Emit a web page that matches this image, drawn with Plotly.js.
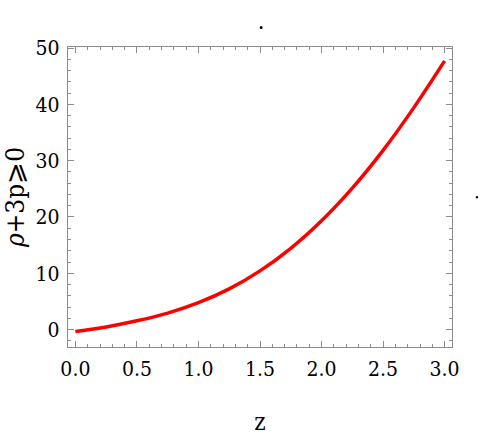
<!DOCTYPE html>
<html>
<head>
<meta charset="utf-8">
<script src="https://cdn.plot.ly/plotly-3.0.1.min.js"></script>
<style>html,body{margin:0;padding:0;background:#fff}#chart{width:491px;height:436px}</style>
</head>
<body>
<div id="chart"></div>
<script>
const zValues = [0, 0.25, 0.5, 0.75, 1.0, 1.25, 1.5, 1.75, 2.0, 2.25, 2.5, 2.75, 3.0];
const rhoPlus3p = [-0.35, 0.47, 1.55, 2.93, 4.78, 7.23, 10.43, 14.43, 19.33, 25.13, 31.83, 39.43, 47.73];
const xTickVals = [0, 0.5, 1, 1.5, 2, 2.5, 3];
const xTickText = ["0.0", "0.5", "1.0", "1.5", "2.0", "2.5", "3.0"];
const yTickVals = [0, 10, 20, 30, 40, 50];
const yTickText = ["0", "10", "20", "30", "40", "50"];

const serif = "DejaVu Serif Condensed, DejaVu Serif, serif";
const tickFont = {family: serif, size: 21, color: "#000"};
const frameColor = "#8c8c8c";

const trace = {
  x: zValues, y: rhoPlus3p, type: "scatter", mode: "lines",
  line: {color: "#ff0000", width: 3.5, shape: "spline", smoothing: 1},
  hoverinfo: "none"
};

const layout = {
  width: 491, height: 436,
  font: {family: serif, color: "#000"},
  margin: {l: 68, r: 39, t: 46.5, b: 89},
  paper_bgcolor: "#fff", plot_bgcolor: "#fff",
  showlegend: false,
  xaxis: {
    range: [-0.06, 3.06], tickvals: xTickVals, ticktext: xTickText,
    ticks: "inside", ticklen: 6, tickwidth: 1, tickcolor: frameColor,
    minor: {dtick: 0.1, tick0: 0, ticks: "inside", ticklen: 3, tickcolor: frameColor, showgrid: false},
    showline: true, linecolor: frameColor, linewidth: 1.3, mirror: "allticks",
    showgrid: false, zeroline: false, tickfont: tickFont, ticklabelstandoff: 2,
    title: {text: "z", font: {family: serif, size: 24, color: "#000"}, standoff: 33}
  },
  yaxis: {
    range: [-3.1, 50.2], tickvals: yTickVals, ticktext: yTickText,
    ticks: "inside", ticklen: 6, tickwidth: 1, tickcolor: frameColor,
    minor: {dtick: 2, tick0: 0, ticks: "inside", ticklen: 3, tickcolor: frameColor, showgrid: false},
    showline: true, linecolor: frameColor, linewidth: 1.3, mirror: "allticks",
    showgrid: false, zeroline: false, tickfont: tickFont, ticklabelstandoff: 3,
    title: {text: "<i>ρ</i>+3p⩾0", font: {family: serif, size: 26, color: "#000"}, standoff: 7}
  },
  shapes: [
    {type: "circle", xref: "paper", yref: "paper", xsizemode: "pixel", ysizemode: "pixel",
     xanchor: 0.503, yanchor: 1.065, x0: -1.5, x1: 1.5, y0: -1.5, y1: 1.5,
     fillcolor: "#000", line: {width: 0}},
    {type: "circle", xref: "paper", yref: "paper", xsizemode: "pixel", ysizemode: "pixel",
     xanchor: 1.065, yanchor: 0.499, x0: -1.2, x1: 1.2, y0: -1.2, y1: 1.2,
     fillcolor: "#000", line: {width: 0}}
  ]
};

Plotly.newPlot("chart", [trace], layout, {staticPlot: true, displayModeBar: false});
</script>
</body>
</html>
